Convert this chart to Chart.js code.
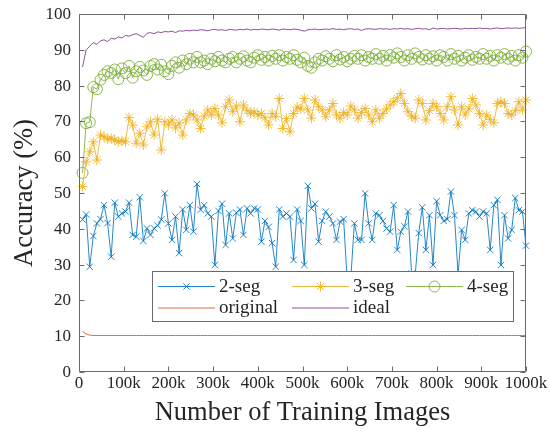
<!DOCTYPE html>
<html><head><meta charset="utf-8">
<script src="https://cdn.jsdelivr.net/npm/chart.js@4/dist/chart.umd.min.js"></script>
<style>html,body{margin:0;padding:0;background:#fff}#wrap{width:550px;height:434px}</style>
</head><body><div id="wrap"><canvas id="c" width="550" height="434"></canvas></div>
<script>
// ---------- data ----------
const trainingImagesK = [8,16,24,32,40,48,56,64,72,80,88,96,104,112,120,128,136,144,152,160,168,176,184,192,200,208,216,224,232,240,248,256,264,272,280,288,296,304,312,320,328,336,344,352,360,368,376,384,392,400,408,416,424,432,440,448,456,464,472,480,488,496,504,512,520,528,536,544,552,560,568,576,584,592,600,608,616,624,632,640,648,656,664,672,680,688,696,704,712,720,728,736,744,752,760,768,776,784,792,800,808,816,824,832,840,848,856,864,872,880,888,896,904,912,920,928,936,944,952,960,968,976,984,992,1000];
const xTickValues = [0,100,200,300,400,500,600,700,800,900,1000];
const xTickLabels = ['0','100k','200k','300k','400k','500k','600k','700k','800k','900k','1000k'];
const yTickValues = [0,10,20,30,40,50,60,70,80,90,100];
const yTickLabels = ['0','10','20','30','40','50','60','70','80','90','100'];
const seriesNames = ['2-seg','3-seg','4-seg','original','ideal'];

const seg2 = [42.6,44.0,29.4,38.0,41.5,42.7,46.6,41.6,32.2,47.3,
43.4,44.3,44.8,47.3,38.3,37.8,48.8,36.6,40.1,38.3,
40.1,40.9,42.6,49.9,41.5,36.9,43.4,33.2,45.4,39.7,
46.6,39.2,52.5,45.3,46.6,44.3,43.4,29.9,45.0,47.0,
35.5,44.3,37.3,44.5,45.4,38.3,45.7,44.3,45.7,45.4,
36.4,42.2,40.5,36.0,29.4,45.4,43.4,44.3,43.4,31.3,
45.4,42.2,29.9,52.0,45.7,47.0,36.4,42.2,44.8,43.4,
41.5,36.9,42.0,42.7,25.5,26.0,41.5,36.9,36.9,49.9,
41.5,36.9,44.3,43.8,42.2,40.1,39.2,46.6,34.1,39.2,
40.7,44.8,27.5,27.0,38.8,46.0,34.1,43.8,29.9,47.7,
43.8,42.2,42.7,50.4,43.8,27.2,39.7,36.9,44.3,45.2,
44.8,43.4,44.8,44.3,34.1,46.6,48.1,29.9,43.8,37.3,
39.7,48.6,45.2,44.8,35.3];

const seg3 = [51.8,58.7,61.5,64.3,59.2,66.2,65.7,65.0,65.3,64.8,
64.3,64.6,64.3,71.1,69.0,63.9,66.7,63.4,68.5,69.9,
66.2,70.6,62.0,69.9,69.0,70.4,68.2,69.6,66.2,70.4,
72.2,71.8,70.4,68.0,71.5,73.2,71.8,73.6,71.8,69.6,
74.1,76.0,72.7,74.3,69.9,74.6,73.0,72.2,72.7,71.8,
72.2,71.0,69.0,72.2,71.3,76.4,68.0,70.8,67.1,72.2,
74.0,73.5,76.4,73.2,70.9,76.0,74.1,73.2,71.3,73.2,
75.0,71.8,70.9,72.5,71.8,74.3,73.2,70.9,72.5,73.6,
71.8,69.9,73.2,70.9,72.2,73.5,74.6,75.5,76.5,77.8,
75.0,72.7,71.5,70.9,76.0,75.0,70.4,73.0,75.0,74.1,
72.2,70.4,74.1,76.9,73.2,69.0,74.1,71.8,73.5,76.4,
74.6,72.2,69.0,71.8,70.5,69.6,75.0,75.5,75.0,72.2,
71.8,73.0,75.5,73.2,76.0];

const seg4 = [55.6,69.5,69.8,79.6,79.0,81.6,83.0,84.0,83.5,84.5,
81.8,84.8,83.5,85.5,82.2,84.0,85.2,84.2,83.0,85.5,
86.0,84.5,85.8,84.0,83.2,85.5,86.5,85.0,87.0,86.0,
87.5,86.5,88.0,86.5,87.0,86.0,87.5,86.8,88.0,87.0,
86.5,87.5,88.0,86.5,87.5,88.2,87.0,86.5,87.8,88.5,
87.2,88.0,87.0,88.3,87.5,88.5,87.0,88.0,87.5,88.5,
87.2,86.5,87.8,85.5,85.0,86.5,87.5,87.0,88.2,87.5,
86.8,88.5,87.3,88.0,86.8,87.5,88.3,87.5,88.5,87.0,
88.0,87.5,88.8,87.5,88.3,87.0,88.5,87.8,89.0,88.0,
87.0,88.5,87.5,89.0,88.0,87.3,88.5,87.5,88.2,87.0,
88.5,88.0,87.0,88.8,87.5,88.3,87.0,87.8,88.5,87.2,
88.0,87.5,88.8,87.5,88.3,87.0,88.5,87.8,88.8,87.5,
88.3,87.0,88.5,87.8,89.5];

const original = [11.3,10.6,10.3,10.2,10.2,10.2,10.2,10.2,10.2,10.2,
10.2,10.2,10.2,10.2,10.2,10.2,10.2,10.2,10.2,10.2,
10.2,10.2,10.2,10.2,10.2,10.2,10.2,10.2,10.2,10.2,
10.2,10.2,10.2,10.2,10.2,10.2,10.2,10.2,10.2,10.2,
10.2,10.2,10.2,10.2,10.2,10.2,10.2,10.2,10.2,10.2,
10.2,10.2,10.2,10.2,10.2,10.2,10.2,10.2,10.2,10.2,
10.2,10.2,10.2,10.2,10.2,10.2,10.2,10.2,10.2,10.2,
10.2,10.2,10.2,10.2,10.2,10.2,10.2,10.2,10.2,10.2,
10.2,10.2,10.2,10.2,10.2,10.2,10.2,10.2,10.2,10.2,
10.2,10.2,10.2,10.2,10.2,10.2,10.2,10.2,10.2,10.2,
10.2,10.2,10.2,10.2,10.2,10.2,10.2,10.2,10.2,10.2,
10.2,10.2,10.2,10.2,10.2,10.2,10.2,10.2,10.2,10.2,
10.2,10.2,10.2,10.2,10.2];

const ideal = [85.2,90.0,91.0,92.0,91.5,92.5,92.8,92.3,93.2,93.0,
93.6,93.3,94.0,93.8,94.2,94.5,94.0,93.5,94.6,94.8,
94.5,95.0,94.8,95.1,95.0,95.2,94.8,95.3,95.2,95.4,
95.3,95.5,95.4,95.6,95.5,95.3,95.6,95.7,95.5,95.6,
95.4,95.7,95.6,95.5,95.7,95.6,95.8,95.5,95.7,95.6,
95.8,95.7,95.6,95.8,95.7,95.5,95.8,95.7,95.6,95.8,
95.7,95.5,95.2,95.6,95.7,95.8,95.6,95.7,95.8,95.7,
95.9,95.7,95.8,95.6,95.8,95.9,95.7,95.8,95.4,95.8,
95.9,95.8,95.7,95.9,95.8,95.9,95.7,95.9,95.8,96.0,
95.8,95.9,95.7,95.9,96.0,95.8,95.9,95.6,96.1,95.8,
95.9,96.0,95.8,95.9,96.0,95.9,95.8,96.0,95.9,96.0,
95.9,96.1,95.9,96.0,95.8,96.0,96.1,95.9,96.0,96.1,
96.0,96.1,96.0,96.1,96.2];

// ---------- styling ----------
const FONT = "'Liberation Serif', serif";
const textColor = '#262626';
const axisColor = '#6a6a6a';
const colors = ['#0072BD', '#EDB120', '#77AC30', '#D95319', '#7E2F8E'];
const markers = ['crossRot', 'star', 'circle', false, false];
const radii = [4.5, 5, 5.5, 0, 0];
const seriesValues = [seg2, seg3, seg4, original, ideal];

Chart.defaults.font.family = FONT;
Chart.defaults.color = textColor;

const toXY = vals => vals.map((v, i) => ({x: trainingImagesK[i], y: v}));

const datasets = seriesValues.map((vals, k) => ({
  label: seriesNames[k],
  data: toXY(vals),
  borderColor: colors[k],
  backgroundColor: colors[k],
  borderWidth: 0.85,
  pointStyle: markers[k] || 'circle',
  pointRadius: radii[k],
  pointBorderColor: colors[k],
  pointBackgroundColor: 'rgba(0,0,0,0)',
  pointBorderWidth: 0.85,
  tension: 0,
  clip: false,
  fill: false
}));

const decor = {
  id: 'decor',
  afterDatasetsDraw(chart) {
    const {ctx, chartArea: a, scales: {x, y}} = chart;
    ctx.save();
    const L = Math.round(a.left) + 0.5, R = Math.round(a.right) - 0.5;
    const T = Math.round(a.top) + 0.5, B = Math.round(a.bottom) - 0.5;
    ctx.strokeStyle = axisColor;
    ctx.lineWidth = 1;
    ctx.beginPath();
    ctx.rect(L, T, R - L, B - T);
    x.ticks.forEach(t => {
      const p = Math.round(x.getPixelForValue(t.value)) + 0.5;
      ctx.moveTo(p, B); ctx.lineTo(p, B - 5);
      ctx.moveTo(p, T); ctx.lineTo(p, T + 5);
    });
    y.ticks.forEach(t => {
      const p = Math.round(y.getPixelForValue(t.value)) + 0.5;
      ctx.moveTo(L, p); ctx.lineTo(L + 5, p);
      ctx.moveTo(R, p); ctx.lineTo(R - 5, p);
    });
    ctx.stroke();

    // tick labels, positioned through the library scales
    ctx.fillStyle = textColor;
    ctx.font = '17px ' + FONT;
    ctx.textAlign = 'center';
    ctx.textBaseline = 'top';
    x.ticks.forEach((t, i) => ctx.fillText(xTickLabels[i], x.getPixelForValue(t.value), a.bottom + 3));
    ctx.textAlign = 'right';
    ctx.textBaseline = 'middle';
    y.ticks.forEach((t, i) => ctx.fillText(yTickLabels[i], a.left - 8, y.getPixelForValue(t.value) + 0.5));

    // legend box inside the plot
    const lx = 152.5, ly = 271.5, lw = 361, lh = 50;
    ctx.fillStyle = '#ffffff';
    ctx.fillRect(lx, ly, lw, lh);
    ctx.strokeStyle = '#6a6a6a';
    ctx.lineWidth = 1;
    ctx.strokeRect(lx, ly, lw, lh);
    const slots = [[158, 286], [292, 286], [406, 286], [158, 307.5], [292, 307.5]];
    ctx.font = '19px ' + FONT;
    ctx.textBaseline = 'middle';
    ctx.textAlign = 'left';
    chart.data.datasets.forEach((ds, i) => {
      const [sx, sy] = slots[i];
      ctx.strokeStyle = ds.borderColor;
      ctx.lineWidth = 0.85;
      ctx.beginPath();
      ctx.moveTo(sx, sy + 0.5); ctx.lineTo(sx + 57, sy + 0.5);
      ctx.stroke();
      if (ds.pointRadius > 0) {
        ctx.fillStyle = 'rgba(0,0,0,0)';
        Chart.helpers.drawPoint(ctx, {pointStyle: ds.pointStyle, radius: ds.pointRadius, borderWidth: 1, rotation: 0}, sx + 28.5, sy + 0.5);
      }
      ctx.fillStyle = textColor;
      ctx.fillText(ds.label, sx + 61, sy + 1);
    });
    ctx.restore();
  }
};

new Chart(document.getElementById('c'), {
  type: 'line',
  data: {datasets},
  plugins: [decor],
  options: {
    responsive: false,
    animation: false,
    devicePixelRatio: 1,
    layout: {padding: {top: 14, right: 24, left: 0, bottom: 0}},
    plugins: {legend: {display: false}, tooltip: {enabled: false}},
    scales: {
      x: {
        type: 'linear', min: 0, max: 1000,
        afterBuildTicks: s => { s.ticks = xTickValues.map(v => ({value: v})); },
        afterFit: s => { s.height = 62; },
        grid: {display: false, drawTicks: false},
        border: {display: false},
        ticks: {display: false},
        title: {display: true, text: 'Number of Training Images',
          font: {family: FONT, size: 26.5}, color: textColor, padding: {top: 0, bottom: 5}}
      },
      y: {
        type: 'linear', min: 0, max: 100,
        afterBuildTicks: s => { s.ticks = yTickValues.map(v => ({value: v})); },
        afterFit: s => { s.width = 79; },
        grid: {display: false, drawTicks: false},
        border: {display: false},
        ticks: {display: false},
        title: {display: true, text: 'Accuracy (%)',
          font: {family: FONT, size: 26.5}, color: textColor, padding: {top: 9, bottom: 0}}
      }
    }
  }
});
</script></body></html>
